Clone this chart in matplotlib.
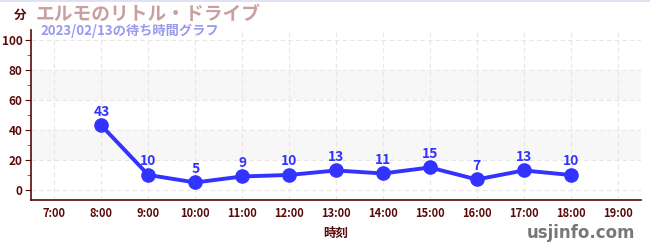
import numpy as np
from matplotlib import pyplot as plt
from matplotlib.ticker import MultipleLocator

plt.rcParams["font.family"] = ["Noto Sans CJK JP", "DejaVu Sans"]

# data
hours = [8, 9, 10, 11, 12, 13, 14, 15, 16, 17, 18]
waits = [43, 10, 5, 9, 10, 13, 11, 15, 7, 13, 10]
tick_hours = list(range(7, 20))
tick_labels = [f"{h}:00" for h in tick_hours]

title = "エルモのリトル・ドライブ"
subtitle = "2023/02/13の待ち時間グラフ"

axis_col = "#5a0a0a"
line_col = "#3333ff"

fig = plt.figure(figsize=(6.5, 2.5), dpi=100)
ax = fig.add_axes([31 / 650, 50 / 250, 610 / 650, 170 / 250])

ax.set_xlim(6.5, 19.5)
ax.set_ylim(-6.7, 106.7)

# alternating bands
for lo, hi in [(20, 40), (60, 80)]:
    ax.axhspan(lo, hi, color="#f7f7f7", zorder=0, lw=0)

ax.set_xticks(tick_hours)
ax.set_xticklabels(tick_labels)
ax.yaxis.set_major_locator(MultipleLocator(20))
ax.yaxis.set_minor_locator(MultipleLocator(10))
ax.set_yticks([0, 20, 40, 60, 80, 100])
ax.grid(True, which="major", color="#e6e6e6", linestyle=(0, (4, 3)), lw=0.8, zorder=0)

for side in ["top", "right"]:
    ax.spines[side].set_visible(False)
for side in ["left", "bottom"]:
    ax.spines[side].set_color(axis_col)
    ax.spines[side].set_linewidth(1.2)

ax.tick_params(axis="y", which="major", length=4, color=axis_col, labelsize=8.5,
               labelcolor=axis_col, pad=2)
ax.tick_params(axis="y", which="minor", length=3, color="#dd2222")
ax.tick_params(axis="x", which="major", length=0, labelsize=8, labelcolor=axis_col, pad=5)
for lab in ax.get_xticklabels() + ax.get_yticklabels():
    lab.set_fontweight("bold")

ax.plot(hours, waits, color=line_col, lw=2.8, marker="o", ms=9.5, zorder=3,
        clip_on=False)
for h, w in zip(hours, waits):
    ax.annotate(str(w), (h, w), xytext=(0, 5), textcoords="offset points",
                ha="center", va="bottom", color=line_col, fontsize=10,
                fontweight="bold")

ax.set_xlabel("時刻", color=axis_col, fontsize=9, fontweight="bold", labelpad=5)

fig.text(20 / 650, 1 - 15 / 250, "分", color=axis_col, fontsize=9,
         fontweight="bold", ha="center", va="center")
fig.text(36 / 650, 1 - 14 / 250, title, color="#c8a0a0", fontsize=13.5,
         fontweight="bold", ha="left", va="center")
fig.text(40 / 650, 1 - 31 / 250, subtitle, color="#9999ee", fontsize=9.5,
         fontweight="bold", ha="left", va="center")
fig.text(635 / 650, 1 - 233 / 250, "usjinfo.com", color="#777777", fontsize=12,
         fontweight="bold", ha="right", va="center", family="DejaVu Sans")

fig.add_artist(plt.Line2D([0, 1], [0.998, 0.998], color="#dcdcf5", lw=1.2))

fig.savefig("out.png", dpi=100)
